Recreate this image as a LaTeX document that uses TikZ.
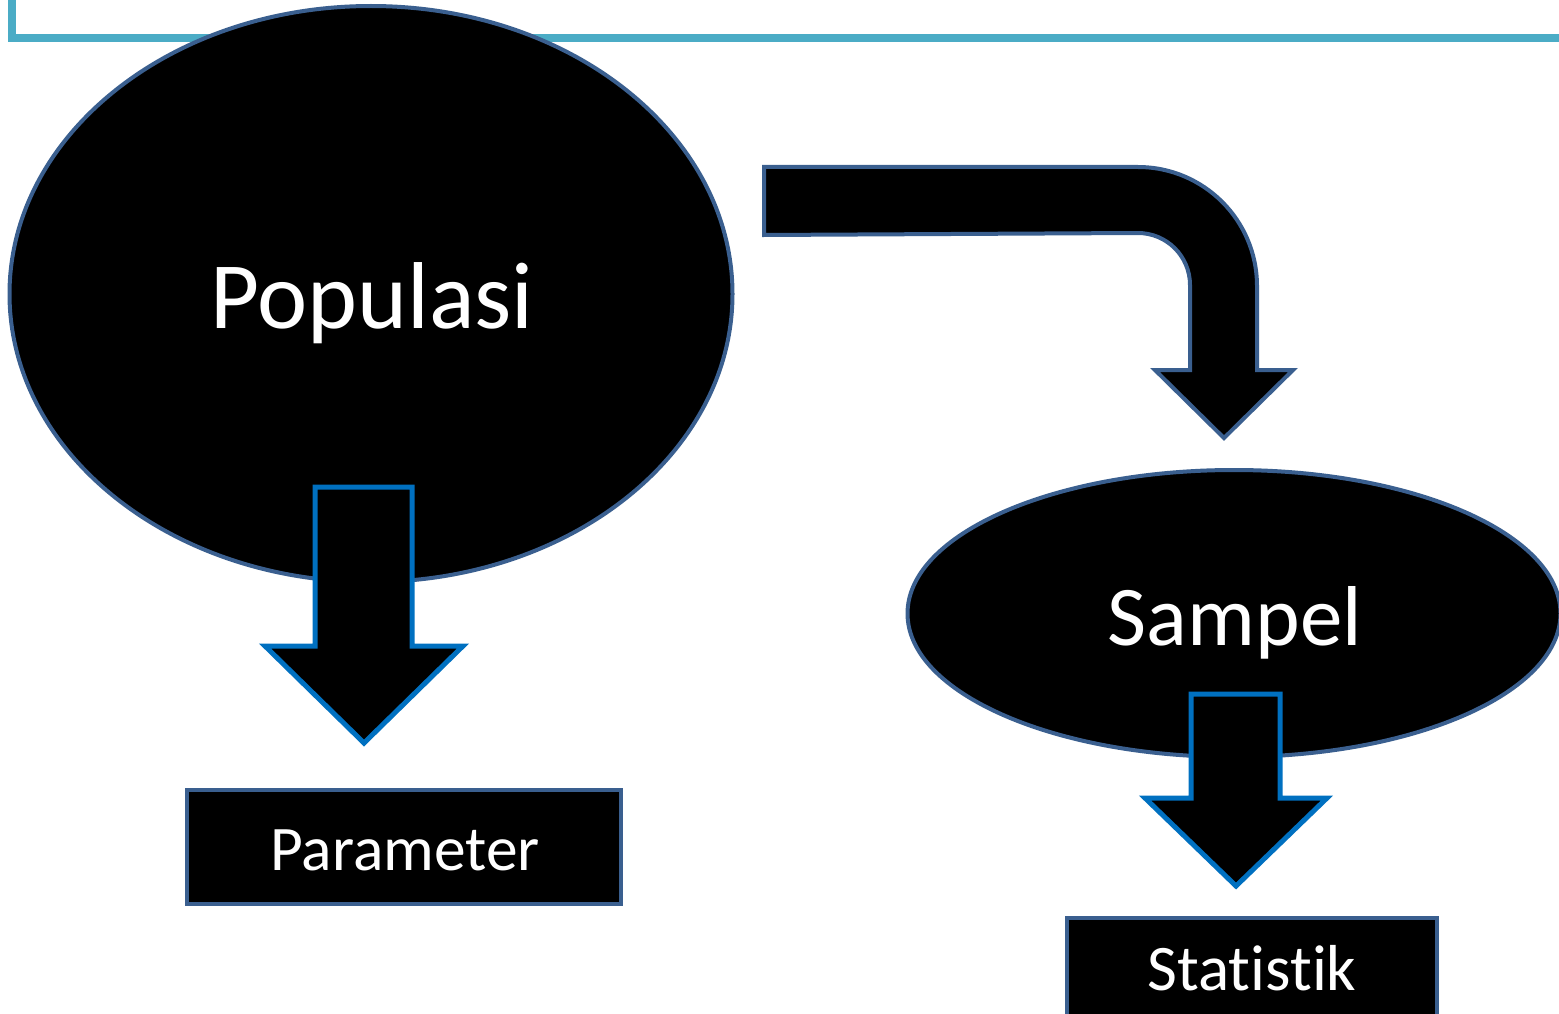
\documentclass[tikz,border=0pt]{standalone}
\usepackage{fontspec}
\setmainfont[Ligatures=NoCommon]{Carlito}
\usetikzlibrary{shapes.geometric}
\definecolor{teal}{HTML}{4BACC6}
\definecolor{edge}{HTML}{3A5F8F}
\definecolor{arrblue}{HTML}{0070C0}
\tikzset{
  blob/.style={ellipse, fill=black, draw=edge, line width=4pt, inner sep=0pt},
  boxnode/.style={rectangle, fill=black, draw=edge, line width=4pt, inner sep=0pt},
  label/.style={text=white, inner sep=0pt, anchor=base},
  bentarrow/.style={fill=black, draw=edge, line width=4pt, line join=miter},
  downarrow/.style={fill=black, draw=arrblue, line width=5pt, line join=miter},
}
\begin{document}
\begin{tikzpicture}[x=1pt,y=-1pt]
\useasboundingbox (0,0) rectangle (1559,1014);
\clip (0,0) rectangle (1559,1014);
% teal frame
\draw[teal, line width=8pt] (12,0) -- (12,38.5) -- (1565,38.5);
% Populasi
\node[blob, minimum width=723pt, minimum height=576pt] (pop) at (371,294) {};
\node[label, font=\fontsize{95}{105}\selectfont] (poptext) at (372,328) {Populasi};
% down arrow from Populasi
\draw[downarrow] (315,487) -- (412,487) -- (412,646) -- (463,646) -- (364,743) -- (265,646) -- (315,646) -- cycle;
% Parameter box
\node[boxnode, minimum width=434pt, minimum height=114pt] (par) at (404,847) {};
\node[label, font=\fontsize{63.5}{70}\selectfont] (partext) at (405,870) {Parameter};
% bent arrow
\draw[bentarrow] (764,167) -- (1138,167) arc[start angle=90, end angle=0, radius=119pt] -- (1257,370) -- (1293,370) -- (1224,438) -- (1155,370) -- (1190,370) -- (1190,285) arc[start angle=0, end angle=90, radius=52pt] -- (764,235) -- cycle;
% Sampel
\node[blob, minimum width=653pt, minimum height=287pt] (sam) at (1234,613.5) {};
\node[label, font=\fontsize{85}{95}\selectfont] (samtext) at (1235,645) {Sampel};
% down arrow from Sampel
\draw[downarrow] (1191,694) -- (1280,694) -- (1280,798) -- (1327,798) -- (1236,886) -- (1145,798) -- (1191,798) -- cycle;
% Statistik box
\node[boxnode, minimum width=370pt, minimum height=120pt] (sta) at (1252,978) {};
\node[label, font=\fontsize{65}{72}\selectfont] (statext) at (1252,990) {Statistik};
\end{tikzpicture}
\end{document}
